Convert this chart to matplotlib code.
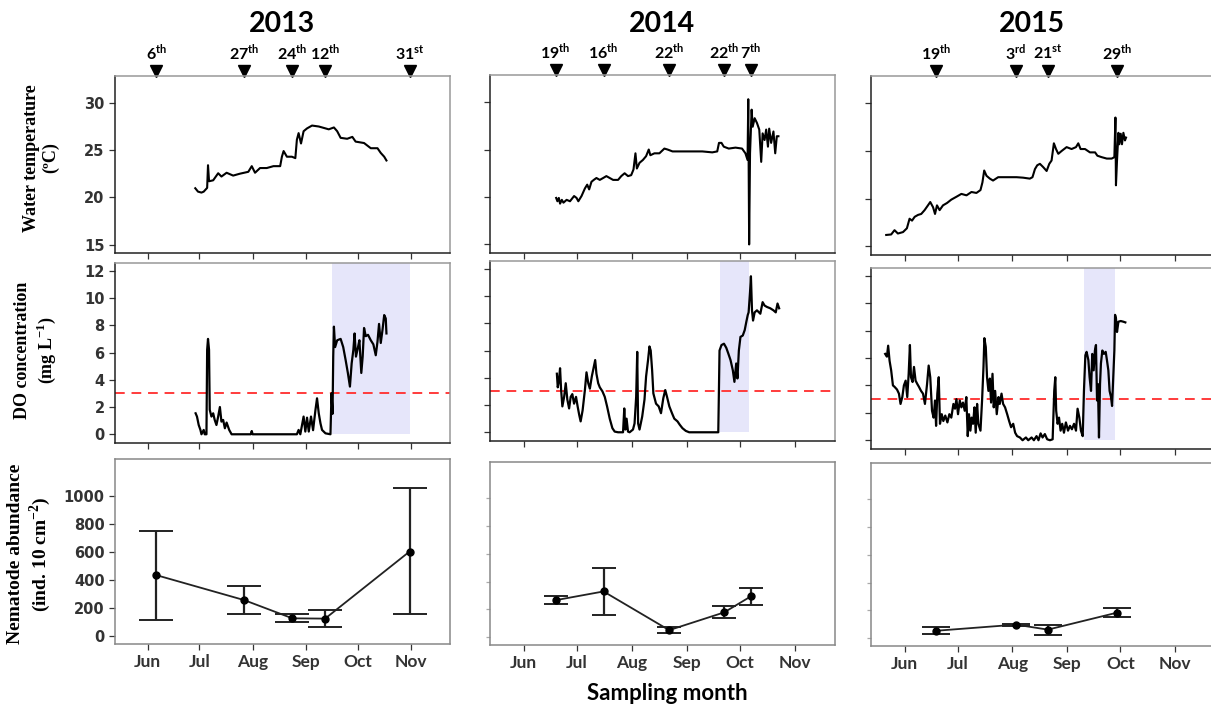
import matplotlib
matplotlib.use("Agg")
import matplotlib.pyplot as plt

# ---- data (day of year) ----
years = ["2013", "2014", "2015"]
month_days = [152, 182, 213, 244, 274, 305]
month_names = ["Jun", "Jul", "Aug", "Sep", "Oct", "Nov"]

sample_days = [
    [157, 208, 236, 255, 304],
    [170, 197, 234, 265, 280],
    [170, 215, 233, 272],
]
sample_labels = [
    [("6", "th"), ("27", "th"), ("24", "th"), ("12", "th"), ("31", "st")],
    [("19", "th"), ("16", "th"), ("22", "th"), ("22", "th"), ("7", "th")],
    [("19", "th"), ("3", "rd"), ("21", "st"), ("29", "th")],
]

temp13_day = [179.6, 181.2, 183.2, 184.5, 186.5, 187.0, 187.6, 190.0, 192.9, 194.8,
              197.8, 201.6, 205.5, 210.4, 212.4, 214.3, 217.2, 221.1, 225.0, 228.9,
              229.9, 230.9, 232.8, 235.7, 237.7, 238.6, 239.6, 241.0, 242.5, 244.5,
              247.4, 251.3, 255.2, 257.1, 260.1, 262.0, 264.0, 267.8, 270.8, 272.7,
              277.6, 281.5, 285.4, 287.3, 289.3, 290.6]
temp13 = [20.96, 20.6, 20.5, 20.6, 21.0, 23.4, 21.7, 21.8, 22.55, 22.2,
          22.6, 22.3, 22.5, 22.7, 23.3, 22.6, 23.1, 23.1, 23.3, 23.3,
          24.3, 24.9, 24.3, 24.3, 24.15, 26.1, 26.8, 25.7, 27.0, 27.3,
          27.6, 27.5, 27.3, 27.2, 27.4, 27.0, 26.3, 26.2, 26.4, 25.9,
          25.75, 25.2, 25.2, 24.7, 24.3, 23.9]

temp14_day = [170.3, 171.0, 171.8, 172.5, 173.5, 174.4, 176.2, 178.1, 180.4, 181.8,
              182.8, 184.6, 186.5, 187.8, 188.9, 190.2, 191.5, 193.0, 194.9, 196.8,
              198.6, 200.5, 202.4, 205.2, 207.0, 208.9, 210.8, 212.6, 213.9, 215.0,
              215.8, 217.3, 219.2, 221.0, 222.5, 223.4, 225.7, 228.5, 231.3, 233.1,
              235.9, 241.5, 247.1, 252.7, 258.3, 261.1, 262.1, 263.5, 264.8, 267.6,
              271.4, 275.1, 277.0, 278.2, 278.6, 279.1, 279.6, 280.5, 281.1, 282.2,
              283.5, 284.8, 285.9, 286.7, 287.8, 288.7, 289.7, 290.4, 291.5, 292.8,
              293.8, 294.7, 295.6]
temp14 = [19.9, 19.55, 19.9, 19.3, 19.7, 19.4, 19.7, 19.55, 20.1, 19.9,
          19.55, 20.1, 20.9, 21.3, 20.8, 21.6, 21.8, 22.0, 21.8, 22.0,
          22.2, 22.0, 21.8, 21.8, 22.2, 22.5, 22.2, 22.3, 22.9, 24.6,
          23.0, 23.6, 23.9, 24.3, 25.0, 24.4, 24.6, 24.6, 25.1, 25.0,
          24.8, 24.8, 24.8, 24.8, 24.7, 24.8, 25.7, 25.7, 25.3, 25.1,
          25.2, 25.1, 24.6, 23.9, 30.3, 15.0, 24.6, 29.2, 27.4, 28.3,
          27.8, 27.1, 23.7, 26.7, 26.0, 27.1, 25.3, 27.2, 25.7, 26.9,
          24.6, 26.4, 26.4]

temp15_day = [141.6, 144.4, 146.3, 148.2, 151.1, 153.3, 154.8, 156.2, 157.7, 159.6,
              161.4, 163.3, 165.2, 166.5, 168.1, 169.2, 170.3, 171.8, 173.7, 176.0,
              178.4, 181.3, 184.1, 187.0, 189.8, 192.6, 194.9, 196.0, 197.0, 198.3,
              200.2, 202.0, 204.9, 207.7, 211.5, 215.3, 219.0, 222.8, 224.3, 225.7,
              227.0, 228.5, 230.4, 232.3, 233.8, 235.1, 236.4, 237.6, 238.9, 240.8,
              243.6, 246.4, 248.9, 250.2, 251.5, 254.0, 256.8, 259.7, 261.0, 263.4,
              266.3, 269.1, 270.6, 271.2, 271.5, 272.1, 272.9, 273.4, 274.2, 274.9,
              275.7, 276.6, 277.2]
temp15 = [16.2, 16.25, 16.7, 16.35, 16.5, 16.9, 17.9, 17.7, 18.1, 18.3,
          18.4, 18.8, 19.3, 19.65, 19.1, 18.4, 19.3, 18.8, 19.3, 19.55,
          19.9, 20.2, 20.5, 20.35, 20.7, 20.6, 20.9, 21.7, 22.95, 22.4,
          22.1, 21.9, 22.25, 22.25, 22.25, 22.25, 22.2, 22.1, 22.25, 23.1,
          23.5, 23.65, 23.3, 22.9, 23.65, 24.0, 25.8, 25.2, 24.7, 25.0,
          25.4, 25.2, 25.4, 25.8, 25.2, 25.2, 24.85, 24.85, 24.5, 24.35,
          24.2, 24.2, 24.35, 28.5, 21.4, 24.0, 26.9, 25.7, 26.8, 25.7,
          26.9, 26.1, 26.4]

do13_day = [179.8, 180.6, 181.6, 182.6, 183.2, 184.5, 185.1, 186.1, 186.5, 187.0,
            187.6, 188.0, 189.0, 190.0, 190.9, 191.9, 192.9, 193.9, 194.8, 195.8,
            196.8, 197.8, 199.3, 200.7, 211.8, 212.4, 212.9, 238.6, 239.6, 240.6,
            242.5, 243.5, 244.5, 245.5, 246.8, 248.0, 249.4, 250.3, 251.3, 252.3,
            253.2, 255.2, 258.1, 258.7, 259.3, 259.7, 260.1, 260.8, 262.0, 264.0,
            265.5, 266.9, 268.2, 269.4, 270.4, 271.4, 272.1, 272.9, 274.1, 274.9,
            276.0, 276.8, 277.6, 278.6, 279.9, 281.5, 283.0, 284.4, 285.4, 286.3,
            287.3, 288.3, 289.3, 290.2, 290.6]
do13 = [1.54, 1.3, 0.68, 0.32, 0, 0.32, 0, 0, 6.2, 7.0,
        6.2, 1.8, 1.3, 1.54, 1.05, 0.68, 1.3, 2.0, 0.93, 1.05,
        0.44, 0.86, 0.32, 0, 0, 0.24, 0, 0, 0.32, 0,
        1.3, 0.2, 1.22, 0.2, 1.3, 0.3, 1.8, 2.64, 1.54, 0.8,
        0.32, 0.07, 0, 3.0, 1.5, 5.7, 7.9, 6.4, 6.9, 7.0,
        6.4, 5.45, 4.5, 3.5, 5.2, 6.2, 7.4, 5.7, 6.4, 6.9,
        4.5, 5.7, 7.8, 7.2, 7.3, 6.9, 6.6, 5.8, 6.8, 8.1,
        6.7, 7.65, 8.75, 8.5, 7.4]

do14_day = [170.7, 171.2, 171.8, 172.5, 173.1, 173.8, 174.8, 175.7, 176.6, 177.6,
            178.5, 179.4, 180.4, 181.5, 182.4, 183.3, 184.1, 185.2, 186.5, 187.4,
            188.4, 189.3, 190.4, 191.2, 192.3, 193.0, 194.0, 194.9, 196.4, 197.7,
            199.0, 200.5, 202.0, 203.3, 205.2, 208.0, 208.7, 209.3, 210.0, 210.8,
            211.7, 213.6, 214.5, 215.4, 216.0, 216.5, 217.3, 218.8, 220.1, 221.0,
            222.1, 222.9, 223.6, 224.4, 225.1, 226.6, 228.1, 229.4, 230.7, 231.8,
            232.8, 234.1, 235.6, 236.9, 238.7, 240.0, 241.5, 243.4, 245.3, 261.7,
            262.4, 263.5, 264.9, 266.2, 267.3, 268.6, 269.9, 270.8, 271.8, 272.5,
            273.3, 274.2, 275.5, 276.6, 277.5, 278.3, 278.8, 279.6, 280.1, 280.7,
            281.3, 282.2, 283.5, 285.4, 286.7, 287.8, 289.1, 291.0, 292.8, 294.1,
            295.1, 296.0]
do14 = [4.3, 3.3, 3.7, 4.7, 3.1, 1.9, 2.6, 3.6, 2.4, 1.75,
        2.6, 2.8, 2.1, 2.6, 1.9, 1.27, 0.8, 1.6, 3.1, 4.4,
        3.6, 3.2, 4.1, 4.6, 5.3, 4.3, 3.6, 3.3, 3.0, 2.6,
        1.9, 1.0, 0.3, 0.05, 0, 0, 1.75, 0.2, 1.0, 0.05,
        0, 0.2, 0.65, 2.6, 5.9, 0.65, 0.2, 1.15, 2.4, 4.1,
        5.3, 6.3, 6.0, 4.55, 2.85, 2.1, 1.9, 1.4, 2.5, 3.1,
        2.6, 1.9, 1.4, 1.0, 0.8, 0.55, 0.3, 0.1, 0, 0,
        6.0, 6.4, 6.5, 6.2, 5.8, 5.3, 4.55, 3.7, 5.05, 3.95,
        6.0, 7.0, 7.1, 7.5, 8.1, 8.6, 8.8, 10.3, 11.45, 8.95,
        8.2, 8.8, 8.95, 8.7, 9.55, 9.3, 9.2, 9.1, 8.95, 8.8,
        9.45, 9.1]

do15_day = [141.0, 142.0, 142.7, 143.5, 144.4, 145.4, 146.3, 147.7, 148.8, 149.7,
            150.7, 151.6, 152.6, 153.5, 154.3, 155.0, 155.6, 156.5, 157.3, 158.2,
            159.2, 160.1, 161.3, 162.4, 163.5, 164.7, 165.6, 166.5, 167.5, 168.4,
            169.2, 169.8, 170.5, 171.3, 172.0, 173.0, 173.9, 175.0, 176.2, 177.3,
            178.4, 179.6, 180.5, 181.3, 182.2, 183.2, 184.1, 185.0, 186.0, 186.9,
            187.7, 188.4, 189.2, 189.9, 190.7, 191.5, 192.2, 193.0, 193.7, 194.9,
            195.8, 196.6, 197.1, 197.9, 198.6, 199.4, 200.2, 200.9, 201.7, 202.4,
            203.2, 204.1, 205.1, 205.8, 206.8, 207.7, 208.8, 210.0, 211.1, 212.2,
            213.4, 214.5, 215.6, 217.2, 218.7, 220.6, 221.9, 223.8, 225.1, 226.6,
            227.7, 228.9, 230.0, 231.3, 232.6, 234.2, 235.7, 236.6, 237.2, 237.7,
            238.5, 239.3, 240.2, 241.1, 242.1, 243.2, 244.4, 245.5, 246.6, 247.8,
            248.9, 249.8, 250.8, 251.7, 252.7, 253.4, 254.2, 254.9, 255.9, 256.6,
            257.4, 258.1, 258.9, 259.6, 260.2, 260.8, 261.3, 261.9, 262.5, 263.0,
            263.8, 264.7, 265.7, 266.4, 267.2, 267.9, 268.7, 269.3, 270.0, 270.6,
            271.0, 271.5, 272.1, 272.9, 274.2, 275.7, 276.8]
do15 = [6.3, 6.1, 6.9, 5.8, 5.1, 4.0, 3.9, 3.7, 3.4, 2.65,
        3.15, 4.0, 4.35, 3.15, 4.85, 6.95, 4.6, 4.25, 5.35, 4.35,
        4.1, 3.9, 3.6, 3.4, 2.65, 4.1, 5.45, 4.6, 2.15, 1.65,
        2.9, 1.05, 3.4, 4.6, 1.2, 1.9, 1.4, 1.8, 1.3, 1.9,
        1.65, 2.65, 2.3, 3.0, 1.9, 2.9, 2.4, 2.75, 2.15, 3.15,
        0.3, 1.9, 0.7, 1.65, 1.2, 2.4, 0.55, 2.65, 1.2, 0.7,
        2.9, 5.35, 7.45, 6.8, 4.6, 3.6, 4.5, 2.75, 4.85, 2.4,
        3.6, 1.9, 3.15, 2.65, 3.4, 2.65, 2.4, 1.9, 1.4, 0.95,
        1.2, 0.55, 0.3, 0.2, 0, 0.2, 0, 0.2, 0, 0.3,
        0, 0.5, 0.2, 0.45, 0.07, 0, 0.07, 3.6, 4.6, 2.15,
        1.2, 1.65, 0.7, 1.2, 0.55, 1.3, 0.7, 1.05, 0.8, 1.2,
        0.7, 2.3, 1.65, 0.7, 0.3, 3.6, 6.2, 6.45, 5.85, 4.6,
        3.6, 6.3, 5.1, 6.55, 6.95, 2.9, 4.1, 0.2, 4.1, 5.6,
        6.55, 6.3, 6.45, 5.85, 5.1, 3.6, 3.15, 2.5, 4.6, 6.55,
        9.15, 8.9, 7.9, 8.65, 8.7, 8.65, 8.6]

do_threshold = 3.0
shade_spans = [(259.0, 304.0), (262.6, 278.8), (253.4, 271.2)]

nem_mean = [[434, 256, 126, 124, 602], [266, 329, 50, 178, 293], [53, 97, 61, 183]]
nem_upper = [[751, 360, 159, 185, 1055], [298, 499, 70, 223, 355], [77, 101, 97, 219]]
nem_lower = [[114, 154, 97, 62, 154], [237, 156, 29, 140, 230], [32, 87, 25, 151]]

temp_days = [temp13_day, temp14_day, temp15_day]
temps = [temp13, temp14, temp15]
do_days = [do13_day, do14_day, do15_day]
dos = [do13, do14, do15]

# ---- layout (pixels) ----
W, H = 1211, 709
cols = [
    (115, 450, [(76, 253), (263, 443), (459, 644)]),
    (490, 835, [(75, 253), (261, 441), (462, 645)]),
    (871, 1215, [(76, 255), (268, 449), (463, 646)]),
]
year_x = [282, 662, 1032]
capsizes = [12, 8.5, 10]

fig = plt.figure(figsize=(W / 100, H / 100), dpi=100)

def make_ax(left, right, top, bottom):
    return fig.add_axes([left / W, 1 - bottom / H, (right - left) / W, (bottom - top) / H])

def style(ax, dark=True):
    for s in ["left", "bottom"]:
        ax.spines[s].set_color("#222222" if dark else "#888888")
    for s in ["top", "right"]:
        ax.spines[s].set_color("#999999" if dark else "#888888")
    for s in ax.spines.values():
        s.set_linewidth(1.1)
    ax.tick_params(direction="out", length=4, width=0.9, colors="#333333")
    ax.set_xlim(133, 327.5)
    ax.set_xticks(month_days)

tick_font = dict(family="DejaVu Sans", weight="bold", size=10.5)

for c in range(3):
    left, right, rows = cols[c]

    # water temperature
    ax = make_ax(left, right, *rows[0])
    style(ax)
    ax.plot(temp_days[c], temps[c], color="black", lw=1.5)
    ax.set_ylim(14.1, 32.85)
    ax.set_yticks([15, 20, 25, 30])
    ax.set_xticklabels([])
    if c == 0:
        ax.set_yticklabels(["15", "20", "25", "30"], fontdict=tick_font)
    else:
        ax.set_yticklabels([])
    tr = ax.get_xaxis_transform()
    ax.plot(sample_days[c], [1.03] * len(sample_days[c]), "v", color="black", ms=8.5,
            transform=tr, clip_on=False)
    for d, (num, suf) in zip(sample_days[c], sample_labels[c]):
        ax.text(d, 1.13, num + r"$^{\mathregular{" + suf + "}}$", transform=tr,
                ha="center", va="center", family="Lato", weight="bold", size=11.5)
    fig.text(year_x[c] / W, 1 - 24 / H, years[c], ha="center", va="center",
             family="Lato", weight="bold", size=20.5)

    # dissolved oxygen
    ax = make_ax(left, right, *rows[1])
    style(ax)
    ylo, yhi = -0.64, 12.57
    s0, s1 = shade_spans[c]
    ax.fill_between([s0, s1], 0, yhi, color="#e6e6fa", lw=0, zorder=0)
    ax.axhline(do_threshold, color="#ff3b3b", lw=1.4, ls=(0, (5, 3.5)), zorder=1)
    ax.plot(do_days[c], dos[c], color="black", lw=1.6, zorder=2)
    ax.set_ylim(ylo, yhi)
    ax.set_yticks([0, 2, 4, 6, 8, 10, 12])
    ax.set_xticklabels([])
    if c == 0:
        ax.set_yticklabels(["0", "2", "4", "6", "8", "10", "12"], fontdict=tick_font)
    else:
        ax.set_yticklabels([])

    # nematode abundance
    ax = make_ax(left, right, *rows[2])
    style(ax, dark=False)
    m = nem_mean[c]
    lo = [a - b for a, b in zip(m, nem_lower[c])]
    hi = [b - a for a, b in zip(m, nem_upper[c])]
    ax.errorbar(sample_days[c], m, yerr=[lo, hi], color="#222222", lw=1.3,
                elinewidth=1.6, capsize=capsizes[c], capthick=1.4,
                marker="o", ms=5, mfc="black", mec="black")
    ax.set_ylim(-57, 1262)
    ax.set_yticks([0, 200, 400, 600, 800, 1000])
    ax.set_xticklabels(month_names, family="Lato", weight="bold", size=12.5)
    if c == 0:
        ax.set_yticklabels(["0", "200", "400", "600", "800", "1000"], fontdict=tick_font)
    else:
        ax.set_yticklabels([])
        ax.tick_params(axis="y", colors="#aaaaaa", length=3)

# y axis labels
ylab = dict(family="Liberation Serif", weight="bold", rotation=90, ha="center",
            va="center", multialignment="center")
fig.text(41 / W, 1 - 158 / H, "Water temperature\n(ºC)", size=13, **ylab)
fig.text(36 / W, 1 - 350 / H, "DO concentration\n" + r"(mg L$^{\mathregular{-1}}$)", size=13, **ylab)
fig.text(30 / W, 1 - 554 / H, "Nematode abundance\n" + r"(ind. 10 cm$^{\mathregular{-2}}$)", size=14, **ylab)

fig.text(667 / W, 1 - 693 / H, "Sampling month", ha="center", va="center",
         family="Lato", weight="bold", size=16)

fig.savefig("out.png", dpi=100)
